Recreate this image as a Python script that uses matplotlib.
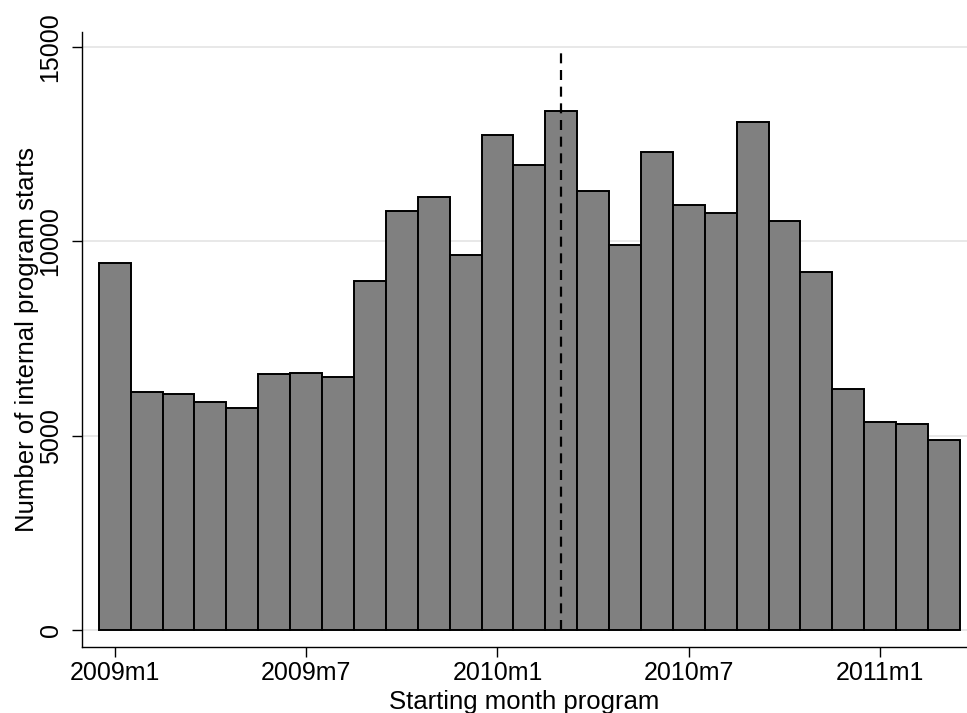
import matplotlib
matplotlib.use("Agg")
import matplotlib.pyplot as plt
import numpy as np

months = ["2009m1", "2009m2", "2009m3", "2009m4", "2009m5", "2009m6", "2009m7", "2009m8", "2009m9",
          "2009m10", "2009m11", "2009m12", "2010m1", "2010m2", "2010m3", "2010m4", "2010m5", "2010m6",
          "2010m7", "2010m8", "2010m9", "2010m10", "2010m11", "2010m12", "2011m1", "2011m2", "2011m3"]
starts = [9450, 6130, 6080, 5870, 5710, 6590, 6610, 6505, 8990,
          10780, 11130, 9660, 12730, 11960, 13350, 11300, 9910, 12300,
          10930, 10740, 13060, 10520, 9220, 6200, 5360, 5300, 4880]
tick_labels = ["2009m1", "2009m7", "2010m1", "2010m7", "2011m1"]
y_ticks = [0, 5000, 10000, 15000]
reform_month = "2010m3"

plt.rcParams['font.family'] = ['Liberation Sans', 'DejaVu Sans']

fig = plt.figure(figsize=(9.67, 7.13), dpi=100)
ax = fig.add_axes([82/967, 1 - 647/713, 1 - 82/967, (647 - 32)/713])

x = np.arange(len(months))
ax.bar(x, starts, width=1.0, color="#808080", edgecolor="black", linewidth=1.4, zorder=2)

xr = months.index(reform_month)
ax.plot([xr, xr], [0, 15000], color="black", linestyle=(0, (4.5, 3)), linewidth=1.6, zorder=3)

ax.set_xlim(-1.025, 26.72)
ax.set_ylim(-437, 15386)

ax.set_yticks(y_ticks)
ax.set_yticklabels([str(v) for v in y_ticks], rotation=90, va="center", fontsize=18)
ax.set_xticks([months.index(t) for t in tick_labels])
ax.set_xticklabels(tick_labels, fontsize=18)

for v in y_ticks:
    ax.axhline(v, color="#e8e8e8", linewidth=1.4, zorder=1)

for s in ["top", "right"]:
    ax.spines[s].set_visible(False)
ax.spines["left"].set_linewidth(1.0)
ax.spines["bottom"].set_linewidth(1.0)
ax.tick_params(axis="x", length=7, width=1.0, color="black", pad=3)
ax.tick_params(axis="y", length=7, width=1.0, color="black", pad=7)

ax.set_xlabel("Starting month program", fontsize=18.5, labelpad=4)
ax.set_ylabel("Number of internal program starts", fontsize=18.5, labelpad=0)

fig.savefig("out.png", dpi=100)
